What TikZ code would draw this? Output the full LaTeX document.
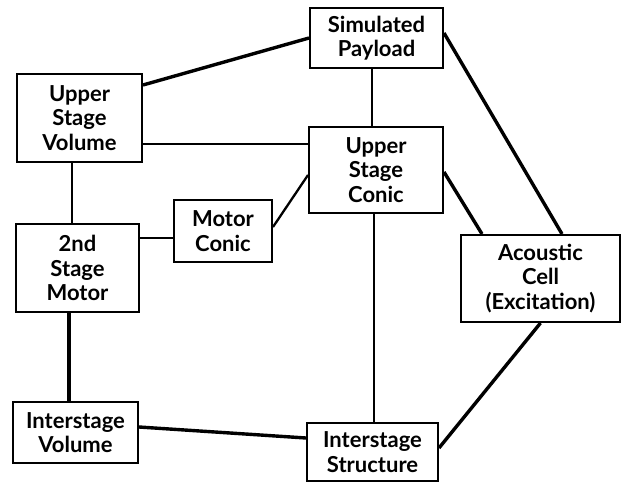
\documentclass[tikz,border=0pt]{standalone}
\usepackage{fontspec}
\setmainfont{Lato}
\begin{document}
\begin{tikzpicture}[x=1pt,y=-1pt,
  box/.style={draw,line width=2pt,inner sep=0pt,align=center,font=\fontsize{22}{24.5}\selectfont\bfseries},
  thick line/.style={line width=3.4pt},
  mid line/.style={line width=2.3pt},
  thin line/.style={line width=1.3pt}]
\useasboundingbox (0,0) rectangle (625,483);
\node[box,minimum width=133pt,minimum height=60pt] (sp) at (376.5,38) {Simulated\\Payload};
\node[box,minimum width=125pt,minimum height=88pt] (usv) at (79.5,118) {Upper\\Stage\\Volume};
\node[box,minimum width=134pt,minimum height=86pt] (usc) at (376,170) {Upper\\Stage\\Conic};
\node[box,minimum width=98pt,minimum height=62pt] (mc) at (223,231) {Motor\\Conic};
\node[box,minimum width=123pt,minimum height=88pt] (sm) at (77.5,268) {2nd\\Stage\\Motor};
\node[box,minimum width=125pt,minimum height=61pt] (iv) at (75.5,432.5) {Interstage\\Volume};
\node[box,minimum width=131pt,minimum height=58pt] (is) at (372.5,452) {Interstage\\Structure};
\node[box,minimum width=159pt,minimum height=87pt] (ac) at (540.5,278.5) {Acoustic\\Cell\\(Excitation)};
\draw[thick line] ([yshift=33pt]usv.east) -- (sp.west);
\draw[mid line] ([yshift=-26pt]usv.east) -- ([yshift=26pt]usc.west);
\draw[thin line] ([xshift=-7.5pt]usv.south) -- ([xshift=-5.5pt]sm.north);
\draw[mid line] ([yshift=30pt]sm.east) -- ([yshift=-7pt]mc.west);
\draw[mid line] ([yshift=4pt]mc.east) -- ([yshift=-5pt]usc.west);
\draw[thin line] ([xshift=-4.5pt]sp.south) -- ([xshift=-4pt]usc.north);
\draw[thick line] ([yshift=5pt]sp.east) -- ([xshift=21.5pt]ac.north);
\draw[thick line] ([yshift=-2pt]usc.east) -- ([xshift=-58.5pt]ac.north);
\draw[mid line] ([xshift=-2pt]usc.south) -- ([xshift=1.5pt]is.north);
\draw[thick line] ([xshift=-8.5pt]sm.south) -- ([xshift=-6.5pt]iv.north);
\draw[thick line] ([yshift=5.5pt]iv.east) -- ([yshift=14pt]is.west);
\draw[thick line] (ac.south) -- ([yshift=4pt]is.east);
\end{tikzpicture}
\end{document}
